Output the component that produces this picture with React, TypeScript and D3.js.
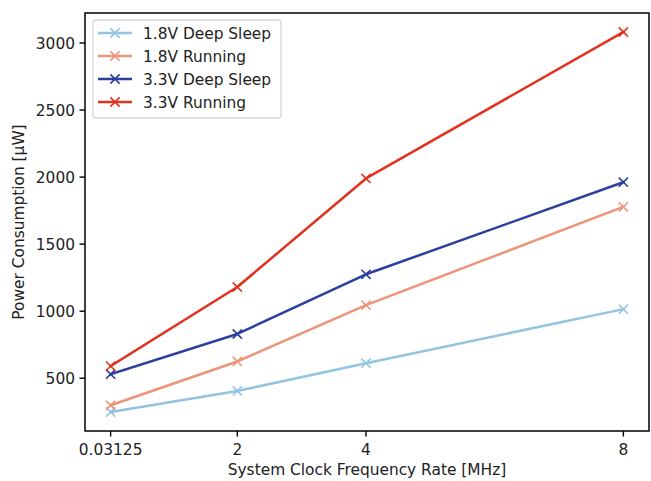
import * as d3 from "d3";

const freqs = [0.03125, 2, 4, 8];
const xTickLabels = ["0.03125", "2", "4", "8"];
const yTicks = [500, 1000, 1500, 2000, 2500, 3000];

const seriesNames = ["1.8V Deep Sleep", "1.8V Running", "3.3V Deep Sleep", "3.3V Running"];
const deepSleep18 = [248, 405, 612, 1015];
const running18 = [298, 625, 1045, 1778];
const deepSleep33 = [530, 830, 1275, 1962];
const running33 = [590, 1180, 1990, 3082];
const seriesColors = ["#93c4e2", "#ec9579", "#2c3f9c", "#e0321f"];

const W = 651;
const H = 481;
const mLeft = 85;
const mRight = 649;
const mTop = 13;
const mBottom = 431;
const font = "'DejaVu Sans', sans-serif";
const fs = 15.4;

function App() {
  const allVals = [deepSleep18, running18, deepSleep33, running33];
  const xMin = d3.min(freqs)!;
  const xMax = d3.max(freqs)!;
  const xPad = (xMax - xMin) * 0.05;
  const yMin = d3.min(allVals.flat())!;
  const yMax = d3.max(allVals.flat())!;
  const yPad = (yMax - yMin) * 0.05;

  const x = d3.scaleLinear().domain([xMin - xPad, xMax + xPad]).range([mLeft, mRight]);
  const y = d3.scaleLinear().domain([yMin - yPad, yMax + yPad]).range([mBottom, mTop]);

  const line = d3.line<[number, number]>()
    .x(d => x(d[0]))
    .y(d => y(d[1]));

  const ms = 4.6;
  const cross = (cx: number, cy: number, color: string, key: string) => (
    <path key={key}
      d={`M${cx - ms},${cy - ms}L${cx + ms},${cy + ms}M${cx - ms},${cy + ms}L${cx + ms},${cy - ms}`}
      stroke={color} strokeWidth={1.6} fill="none" />
  );

  const legX = 93, legY = 20, legW = 188, legH = 98, rowH = 23;

  return (
    <svg width={W} height={H} style={{ position: "absolute", left: 0, top: 0, background: "#fff" }}
      fontFamily={font}>
      {allVals.map((vals, i) => {
        const pts = freqs.map((f, j) => [f, vals[j]] as [number, number]);
        return (
          <g key={seriesNames[i]}>
            <path d={line(pts)!} fill="none" stroke={seriesColors[i]} strokeWidth={2.5}
              strokeLinejoin="round" strokeLinecap="square" />
            {pts.map((p, j) => cross(x(p[0]), y(p[1]), seriesColors[i], `m${j}`))}
          </g>
        );
      })}

      {/* axes frame */}
      <rect x={mLeft} y={mTop} width={mRight - mLeft} height={mBottom - mTop}
        fill="none" stroke="#000" strokeWidth={1.5} />

      {/* x ticks */}
      {freqs.map((f, i) => (
        <g key={`xt${i}`} transform={`translate(${x(f)},${mBottom})`}>
          <line y2={5.5} stroke="#000" strokeWidth={1.4} />
          <text y={24} textAnchor="middle" fontSize={fs} fill="#222">{xTickLabels[i]}</text>
        </g>
      ))}
      {/* y ticks */}
      {yTicks.map(v => (
        <g key={`yt${v}`} transform={`translate(${mLeft},${y(v)})`}>
          <line x2={-5.5} stroke="#000" strokeWidth={1.4} />
          <text x={-10} dy="0.36em" textAnchor="end" fontSize={fs} fill="#222">{v}</text>
        </g>
      ))}

      <text x={(mLeft + mRight) / 2} y={475} textAnchor="middle" fontSize={fs} fill="#222">
        System Clock Frequency Rate [MHz]
      </text>
      <text transform={`translate(24,${(mTop + mBottom) / 2}) rotate(-90)`} textAnchor="middle"
        fontSize={fs} fill="#222">
        Power Consumption [µW]
      </text>

      {/* legend */}
      <rect x={legX} y={legY} width={legW} height={legH} rx={3} fill="#fff" fillOpacity={0.8}
        stroke="#d5d5d5" strokeWidth={1.3} />
      {seriesNames.map((name, i) => {
        const cy = legY + 13 + i * rowH;
        return (
          <g key={`lg${i}`}>
            <line x1={98} x2={132} y1={cy} y2={cy} stroke={seriesColors[i]} strokeWidth={2.5} />
            {cross(115, cy, seriesColors[i], "c")}
            <text x={143} y={cy} dy="0.36em" fontSize={fs} fill="#222">{name}</text>
          </g>
        );
      })}
    </svg>
  );
}

export default App;
